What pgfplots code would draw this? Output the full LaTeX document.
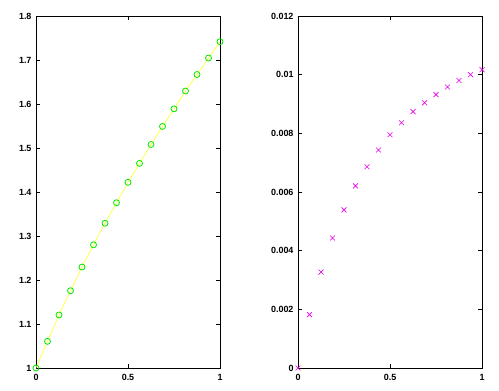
\documentclass[border=0pt]{standalone}
\usepackage{fontspec}
\setmainfont{Liberation Sans}
\usepackage{pgfplots}
\pgfplotsset{compat=1.18}
\begin{document}
\begin{tikzpicture}[x=1bp,y=1bp]
\useasboundingbox (0,0) rectangle (499,390);
\pgfplotsset{
  every axis/.style={
    scale only axis, width=184bp, height=352bp,
    xmin=0, xmax=1, xtick={0,0.5,1},
    axis line style={black, line width=0.8pt},
    tick style={black, line width=0.8pt},
    major tick length=4bp,
    tick align=inside,
    clip=false,
    /pgf/number format/assume math mode=true,
    tick label style={font=\fontsize{9}{10}\selectfont\bfseries},
    xticklabel style={yshift=-3bp},
    yticklabel style={xshift=-1bp},
    scaled y ticks=false,
  }
}
\begin{axis}[at={(36bp,22bp)}, anchor=south west,
  ymin=1, ymax=1.8, ytick={1,1.1,...,1.8},
  yticklabels={1,1.1,1.2,1.3,1.4,1.5,1.6,1.7,1.8}]
\addplot[color={rgb,255:red,255;green,255;blue,0}, line width=0.5pt,
  mark=o, mark size=3bp, mark options={color={rgb,255:red,0;green,230;blue,0}, line width=0.8pt}]
coordinates {
(0,1.0)(0.0625,1.0606)(0.125,1.1205)(0.1875,1.1757)(0.25,1.2295)(0.3125,1.28)
(0.375,1.329)(0.4375,1.3757)(0.5,1.422)(0.5625,1.465)(0.625,1.508)(0.6875,1.549)
(0.75,1.589)(0.8125,1.6295)(0.875,1.667)(0.9375,1.7045)(1,1.7416)};
\end{axis}
\begin{axis}[at={(298bp,22bp)}, anchor=south west,
  ymin=0, ymax=0.012, ytick={0,0.002,...,0.012},
  yticklabels={0,0.002,0.004,0.006,0.008,0.01,0.012}]
\addplot[only marks, mark=x, mark size=3.5bp,
  mark options={color={rgb,255:red,230;green,0;blue,230}, line width=0.6pt}]
coordinates {
(0,0)(0.0625,0.00182)(0.125,0.00327)(0.1875,0.00443)(0.25,0.00539)(0.3125,0.00621)
(0.375,0.00686)(0.4375,0.00743)(0.5,0.00795)(0.5625,0.00836)(0.625,0.00874)(0.6875,0.00904)
(0.75,0.00932)(0.8125,0.00958)(0.875,0.0098)(0.9375,0.0100)(1,0.01017)};
\end{axis}
\end{tikzpicture}
\end{document}
